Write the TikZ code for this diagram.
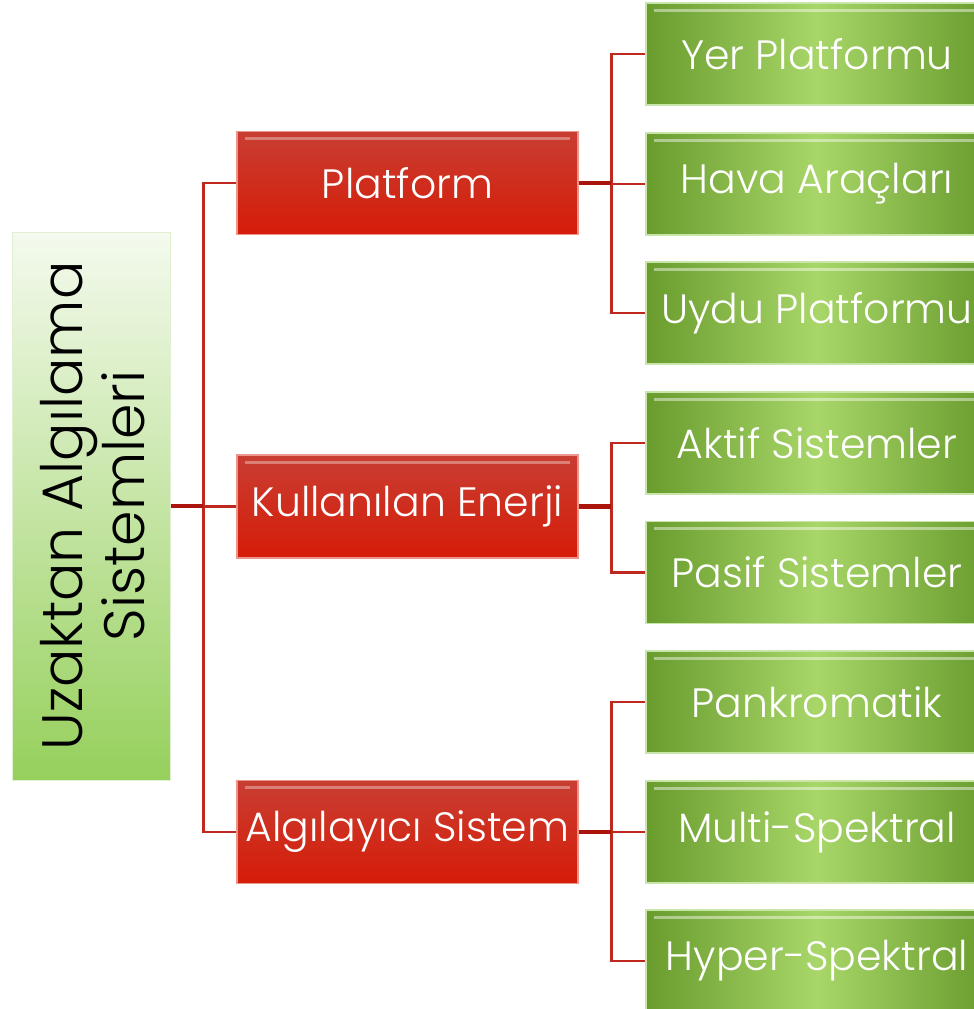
\documentclass[tikz,border=0pt]{standalone}
\usepackage{fontspec}
\setmainfont{Poppins Light}
\begin{document}
\begin{tikzpicture}[x=1pt,y=-1pt,
  conn/.style={draw={rgb,255:red,190;green,40;blue,30}, line width=2.6pt},
  connthick/.style={draw={rgb,255:red,170;green,20;blue,10}, line width=4.5pt},
  redbox/.style={minimum width=341pt, minimum height=103pt, inner sep=0pt,
    top color={rgb,255:red,200;green,62;blue,50}, bottom color={rgb,255:red,214;green,28;blue,8},
    draw={rgb,255:red,235;green,150;blue,140}, line width=1.5pt,
    text=white, font=\fontsize{41}{48}\selectfont,
    path picture={\draw[white,opacity=0.35,line width=3pt]
      ([xshift=8pt,yshift=-7pt]path picture bounding box.north west) -- ([xshift=-8pt,yshift=-7pt]path picture bounding box.north east);}},
  greenbox/.style={minimum width=342pt, minimum height=102pt, inner sep=0pt,
    left color={rgb,255:red,105;green,155;blue,45},
    right color={rgb,255:red,105;green,155;blue,45},
    middle color={rgb,255:red,168;green,214;blue,105},
    draw={rgb,255:red,200;green,230;blue,170}, line width=1.2pt,
    text=white, font=\fontsize{41}{48}\selectfont,
    path picture={\draw[white,opacity=0.45,line width=3pt]
      ([xshift=8pt,yshift=-7pt]path picture bounding box.north west) -- ([xshift=-8pt,yshift=-7pt]path picture bounding box.north east);}},
  rootbox/.style={minimum width=158pt, minimum height=548pt, inner sep=0pt,
    top color={rgb,255:red,244;green,250;blue,238}, bottom color={rgb,255:red,150;green,208;blue,92},
    draw={rgb,255:red,225;green,240;blue,210}, line width=1pt}
]
\useasboundingbox (0,0) rectangle (974,1009);
\fill[white] (0,0) rectangle (974,1009);

% root
\node[rootbox] (r) at (91,506) {};
\node[rotate=90, align=center, font=\fontsize{57}{62}\selectfont, text=black] (rt) at ([xshift=2pt]r.center) {Uzaktan Algılama\\Sistemleri};

% level 1
\node[redbox] (p) at (407.5,183) {Platform};
\node[redbox] (k) at (407.5,506.5) {Kullanılan Enerji};
\node[redbox] (a) at (407.5,832) {Algılayıcı Sistem};

% level 2
\node[greenbox] (g1) at (817,54) {Yer Platformu};
\node[greenbox] (g2) at (817,184) {Hava Araçları};
\node[greenbox] (g3) at (817,313) {Uydu Platformu};
\node[greenbox] (g4) at (817,443) {Aktif Sistemler};
\node[greenbox] (g5) at (817,572.5) {Pasif Sistemler};
\node[greenbox] (g6) at (817,702) {Pankromatik};
\node[greenbox] (g7) at (817,832) {Multi-Spektral};
\node[greenbox] (g8) at (817,961) {Hyper-Spektral};

% root connectors
\draw[conn] (p.west) -- ++(-33,0) coordinate (b0) -- (b0 |- a.west) -- (a.west);
\draw[conn] (b0 |- k.west) -- (k.west);
\draw[connthick] (r.east) -- (r.east -| b0);

% platform connectors
\draw[conn] (g1.west) -- ++(-34,0) coordinate (b1) -- (b1 |- g3.west) -- (g3.west);
\draw[conn] (b1 |- g2.west) -- (g2.west);
\draw[connthick] (p.east) -- (p.east -| b1);

% energy connectors
\draw[conn] (g4.west) -- ++(-34,0) coordinate (b2) -- (b2 |- g5.west) -- (g5.west);
\draw[connthick] (k.east) -- (k.east -| b2);

% sensor connectors
\draw[conn] (g6.west) -- ++(-34,0) coordinate (b3) -- (b3 |- g8.west) -- (g8.west);
\draw[conn] (b3 |- g7.west) -- (g7.west);
\draw[connthick] (a.east) -- (a.east -| b3);
\end{tikzpicture}
\end{document}
